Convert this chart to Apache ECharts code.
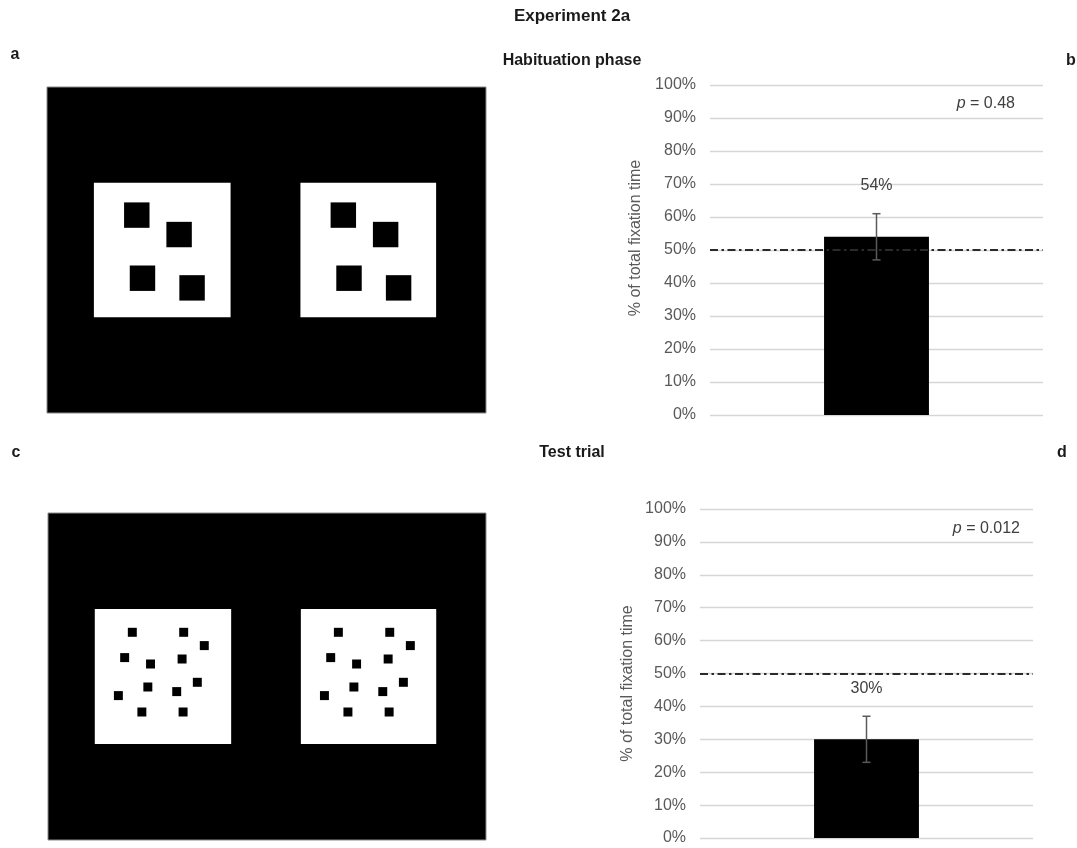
<!DOCTYPE html>
<html>
<head>
<meta charset="utf-8">
<script src="https://cdn.jsdelivr.net/npm/echarts@6/dist/echarts.min.js"></script>
<style>
html,body{margin:0;padding:0;background:#fff;}
#chart{width:1077px;height:848px;}
</style>
</head>
<body>
<div id="chart"></div>
<script>
// ---------- data ----------
const categories = ['Novel display'];
const habituationValues = [54];
const habituationErrors = [7];
const testValues = [30];
const testErrors = [7];
const chanceLevel = 50;
const habituationP = '0.48';
const testP = '0.012';
const yMin = 0, yMax = 100, yStep = 10;

// stimulus pictures (in picture units, 440 x 327, y down)
const stimulusExtent = [440, 327];
const stimulusBoxes = [[47, 96, 137, 135], [254, 96, 136, 135]]; // x, y, w, h
const habituationDots = [[43, 32.5], [85.4, 52], [48.7, 95.8], [98.4, 105.5]]; // centres inside a box
const habituationDotSize = 25.5;
const testDots = [[37.7, 23.3], [89.3, 23.3], [110, 36.6], [30, 48.6], [56, 55], [87.7, 50],
                  [103, 73.3], [53.3, 78], [82.3, 82.6], [23.7, 86.6], [47.3, 103], [88.7, 103]];
const testDotSize = 9;

// ---------- helpers ----------
const FONT = '"Liberation Sans", Arial, sans-serif';
const chart = echarts.init(document.getElementById('chart'));

function rectRenderer(color) {
  return function (params, api) {
    const p0 = api.coord([api.value(0), api.value(1)]);
    const p1 = api.coord([api.value(0) + api.value(2), api.value(1) + api.value(3)]);
    return {
      type: 'rect',
      shape: { x: Math.min(p0[0], p1[0]), y: Math.min(p0[1], p1[1]),
               width: Math.abs(p1[0] - p0[0]), height: Math.abs(p1[1] - p0[1]) },
      style: { fill: color }
    };
  };
}
function dotData(dots, size) {
  const out = [];
  stimulusBoxes.forEach(b => dots.forEach(d => out.push([b[0] + d[0] - size / 2, b[1] + d[1] - size / 2, size, size])));
  return out;
}
function errorRenderer(params, api) {
  const top = api.coord([api.value(0), api.value(2)]);
  const bot = api.coord([api.value(0), api.value(1)]);
  const hw = 4;
  const st = { stroke: '#5a5a5a', lineWidth: 1.5 };
  return {
    type: 'group',
    children: [
      { type: 'line', shape: { x1: top[0], y1: top[1], x2: bot[0], y2: bot[1] }, style: st },
      { type: 'line', shape: { x1: top[0] - hw, y1: top[1], x2: top[0] + hw, y2: top[1] }, style: st },
      { type: 'line', shape: { x1: bot[0] - hw, y1: bot[1], x2: bot[0] + hw, y2: bot[1] }, style: st }
    ]
  };
}

function stimulusAxes(idx) {
  return {
    x: { type: 'value', gridIndex: idx, min: 0, max: stimulusExtent[0], show: false },
    y: { type: 'value', gridIndex: idx, min: 0, max: stimulusExtent[1], inverse: true, show: false }
  };
}
function barAxes(idx, gap, namePad) {
  return {
    x: { type: 'category', gridIndex: idx, data: categories, axisLine: { show: false },
         axisTick: { show: false }, axisLabel: { show: false } },
    y: { type: 'value', gridIndex: idx, min: yMin, max: yMax, interval: yStep,
         name: '% of total fixation time', nameLocation: 'middle', nameGap: gap,
         nameTextStyle: { color: '#595959', fontSize: 16, fontFamily: FONT, padding: namePad },
         axisLine: { show: false }, axisTick: { show: false },
         axisLabel: { formatter: '{value}%', color: '#595959', fontSize: 16, fontFamily: FONT, margin: 14 },
         splitLine: { lineStyle: { color: '#d6d6d6', width: 1.3 } } }
  };
}
function barSeries(idx, values, errors) {
  return [
    {
      type: 'bar', xAxisIndex: idx, yAxisIndex: idx, data: values, barWidth: '31.5%',
      itemStyle: { color: '#000' },
      label: { show: true, position: 'top', distance: 43, formatter: '{c}%',
               color: '#404040', fontSize: 16, fontFamily: FONT },
      markLine: {
        silent: true, symbol: 'none', label: { show: false },
        lineStyle: { color: '#2a2a2a', width: 2, type: [8, 3.5, 2.5, 3.5] },
        data: [{ yAxis: chanceLevel }]
      },
      z: 2
    },
    {
      type: 'custom', xAxisIndex: idx, yAxisIndex: idx, renderItem: errorRenderer,
      data: values.map((v, i) => [i, v - errors[i], v + errors[i]]), z: 5
    }
  ];
}
function stimulusSeries(idx, dots, size) {
  return [
    { type: 'custom', xAxisIndex: idx, yAxisIndex: idx, renderItem: rectRenderer('#fff'),
      data: stimulusBoxes, silent: true, z: 2 },
    { type: 'custom', xAxisIndex: idx, yAxisIndex: idx, renderItem: rectRenderer('#000'),
      data: dotData(dots, size), silent: true, z: 3 }
  ];
}

const aA = stimulusAxes(0), bA = barAxes(1, 66, [0, 0, 0, 24]), cA = stimulusAxes(2), dA = barAxes(3, 64, [0, 20, 0, 0]);

const txt = (text, x, y, size, weight, align, extra) => Object.assign({
  type: 'text', x: x, y: y,
  style: { text: text, fill: '#1a1a1a', font: (weight || 'normal') + ' ' + size + 'px ' + FONT,
           align: align || 'center', verticalAlign: 'middle' }
}, extra || {});

const option = {
  backgroundColor: '#fff',
  animation: false,
  grid: [
    { left: 47, top: 87, width: 439, height: 326, show: true, backgroundColor: '#000', borderColor: '#8a8a8a', borderWidth: 1 },
    { left: 710, top: 85, width: 333, height: 330 },
    { left: 48, top: 513, width: 438, height: 327, show: true, backgroundColor: '#000', borderColor: '#8a8a8a', borderWidth: 1 },
    { left: 700, top: 509, width: 333, height: 329 }
  ],
  xAxis: [aA.x, bA.x, cA.x, dA.x],
  yAxis: [aA.y, bA.y, cA.y, dA.y],
  series: [].concat(
    stimulusSeries(0, habituationDots, habituationDotSize),
    barSeries(1, habituationValues, habituationErrors),
    stimulusSeries(2, testDots, testDotSize),
    barSeries(3, testValues, testErrors)
  ),
  graphic: [
    txt('Experiment 2a', 572, 16, 17, 'bold'),
    txt('Habituation phase', 572, 61, 16, 'bold'),
    txt('Test trial', 572, 453, 16, 'bold'),
    txt('a', 15, 55, 16, 'bold'),
    txt('b', 1071, 61, 16, 'bold'),
    txt('c', 16, 453, 16, 'bold'),
    txt('d', 1062, 453, 16, 'bold'),
    { type: 'text', x: 1015, y: 104, style: { text: '{i|p} = ' + habituationP, fill: '#404040',
      font: '16px ' + FONT, align: 'right', verticalAlign: 'middle',
      rich: { i: { fontStyle: 'italic', fontSize: 16, fontFamily: FONT, fill: '#404040' } } } },
    { type: 'text', x: 1020, y: 529, style: { text: '{i|p} = ' + testP, fill: '#404040',
      font: '16px ' + FONT, align: 'right', verticalAlign: 'middle',
      rich: { i: { fontStyle: 'italic', fontSize: 16, fontFamily: FONT, fill: '#404040' } } } }
  ]
};
chart.setOption(option);
</script>
</body>
</html>
